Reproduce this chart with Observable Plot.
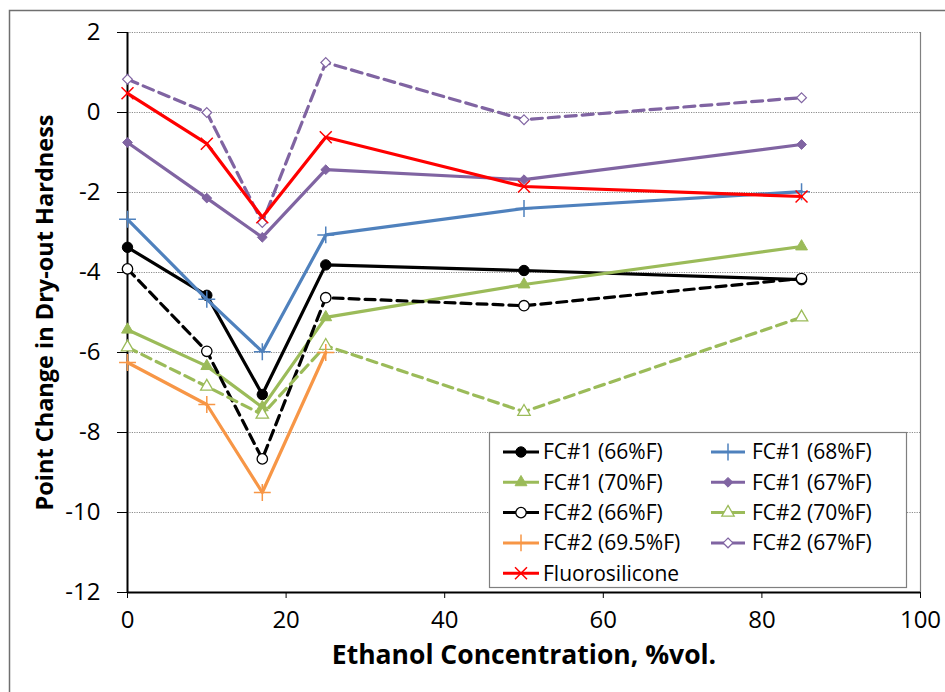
<!DOCTYPE html>
<html>
<head>
<meta charset="utf-8">
<script src="https://cdn.jsdelivr.net/npm/d3@7"></script>
<script src="https://cdn.jsdelivr.net/npm/@observablehq/plot@0.6"></script>
<style>
  html, body { margin: 0; padding: 0; background: #fff; }
  #chart { position: relative; width: 945px; height: 692px; }
</style>
</head>
<body>
<div id="chart"></div>
<script>
// ---- data ----
const ethanol = [0, 10, 17, 25, 50, 85];
const xTicks = [0, 20, 40, 60, 80, 100];
const yTicks = [-12, -10, -8, -6, -4, -2, 0, 2];
const seriesNames = [
  "FC#1 (66%F)", "FC#1 (68%F)", "FC#1 (70%F)", "FC#1 (67%F)",
  "FC#2 (66%F)", "FC#2 (70%F)", "FC#2 (69.5%F)", "FC#2 (67%F)", "Fluorosilicone"
];
const fc1_66  = [-3.37, -4.57, -7.05, -3.81, -3.95, -4.18];
const fc1_68  = [-2.67, -4.67, -5.98, -3.06, -2.4, -1.98];
const fc1_70  = [-5.43, -6.34, -7.37, -5.12, -4.3, -3.35];
const fc1_67  = [-0.75, -2.14, -3.12, -1.43, -1.68, -0.8];
const fc2_66  = [-3.91, -5.97, -8.66, -4.63, -4.83, -4.15];
const fc2_70  = [-5.87, -6.85, -7.55, -5.83, -7.48, -5.12];
const fc2_695 = [-6.25, -7.3, -9.5, -6.0];
const fc2_67  = [0.83, 0.0, -2.75, 1.25, -0.18, 0.37];
const fluoro  = [0.48, -0.78, -2.62, -0.62, -1.85, -2.1];
const xLabel = "Ethanol Concentration, %vol.";
const yLabel = "Point Change in Dry-out Hardness";

// ---- styles ----
const seriesValues = [fc1_66, fc1_68, fc1_70, fc1_67, fc2_66, fc2_70, fc2_695, fc2_67, fluoro];
const styles = [
  {color: "#000000", dash: null,   symbol: "circle",   fill: "#000000", r: 5.2, sw: 1},
  {color: "#4F81BD", dash: null,   symbol: "plus",     fill: "none",    r: 5.5, sw: 1.5},
  {color: "#9BBB59", dash: null,   symbol: "triangle", fill: "#9BBB59", r: 4.4, sw: 1},
  {color: "#8064A2", dash: null,   symbol: "diamond2", fill: "#8064A2", r: 4.4, sw: 1},
  {color: "#000000", dash: "10,6", symbol: "circle",   fill: "#ffffff", r: 5.2, sw: 1.3},
  {color: "#9BBB59", dash: "10,6", symbol: "triangle", fill: "#ffffff", r: 4.6, sw: 1.3},
  {color: "#F79646", dash: null,   symbol: "plus",     fill: "none",    r: 5.5, sw: 1.5},
  {color: "#8064A2", dash: "11,6", symbol: "diamond2", fill: "#ffffff", r: 4.4, sw: 1.2},
  {color: "#FF0000", dash: null,   symbol: "times",    fill: "none",    r: 5.5, sw: 1.5}
];

const FONT = "'Open Sans', 'DejaVu Sans', sans-serif";
const W = 945, H = 692;

const marks = [
  Plot.gridY(yTicks.filter(d => d > -12), {stroke: "#8c8c8c", strokeOpacity: 1, strokeWidth: 1, strokeDasharray: "1.2,1.2"}),
  Plot.ruleX([100], {stroke: "#808080", strokeWidth: 1.2}),
  Plot.axisY({ticks: yTicks, tickSize: 10, tickPadding: 17, fontSize: 24, label: null, stroke: "#000", tickFormat: d => d < 0 ? "-" + Math.abs(d) : String(d)}),
  Plot.axisX({ticks: xTicks, tickSize: 6, tickPadding: 12, fontSize: 24, label: null, stroke: "#000"}),
  Plot.ruleY([-12], {stroke: "#000", strokeWidth: 2}),
  Plot.ruleX([0], {stroke: "#000", strokeWidth: 2}),
  Plot.text([xLabel], {frameAnchor: "bottom", dy: 71, fontSize: 26.5, fontWeight: "bold", textAnchor: "middle", text: d => d}),
  Plot.text([yLabel], {frameAnchor: "left", dx: -82, rotate: -90, fontSize: 23.5, fontWeight: "bold", textAnchor: "middle", text: d => d})
];

seriesValues.forEach((vals, i) => {
  const s = styles[i];
  const data = vals.map((v, j) => ({x: ethanol[j], y: v}));
  marks.push(Plot.line(data, {x: "x", y: "y", stroke: s.color, strokeWidth: 3.2, strokeDasharray: s.dash, strokeLinejoin: "round"}));
  marks.push(Plot.dot(data, {x: "x", y: "y", symbol: s.symbol, r: s.r, fill: s.fill, stroke: s.color, strokeWidth: s.sw}));
});

const plot = Plot.plot({
  width: W, height: H,
  marginLeft: 127, marginRight: 25, marginTop: 32, marginBottom: 100,
  x: {domain: [0, 100]},
  y: {domain: [-12, 2]},
  style: {fontFamily: FONT, color: "#000", background: "#fff", overflow: "visible"},
  marks
});

document.getElementById("chart").appendChild(plot);

// outer chart border
const svg = d3.select(plot);
svg.append("rect")
  .attr("x", 9.5).attr("y", 10.5).attr("width", W).attr("height", H)
  .attr("fill", "none").attr("stroke", "#6f6f6f").attr("stroke-width", 1.5);

// ---- legend ----
const lg = svg.append("g").attr("font-family", FONT).attr("font-size", 21).attr("text-anchor", "start");
lg.append("rect").attr("x", 489.5).attr("y", 432.5).attr("width", 417).attr("height", 155)
  .attr("fill", "#fff").attr("stroke", "#7f7f7f").attr("stroke-width", 1.2);
const symMap = {circle: d3.symbolCircle, plus: d3.symbolPlus, triangle: d3.symbolTriangle, diamond2: d3.symbolDiamond2, times: d3.symbolTimes};
seriesNames.forEach((name, i) => {
  const s = styles[i];
  const col = i % 2, row = Math.floor(i / 2);
  const x0 = col === 0 ? 503 : 711;
  const len = col === 0 ? 36 : 34;
  const cy = 452 + row * 30.3;
  lg.append("line").attr("x1", x0).attr("x2", x0 + len).attr("y1", cy).attr("y2", cy)
    .attr("stroke", s.color).attr("stroke-width", 3);
  lg.append("path")
    .attr("transform", `translate(${x0 + len / 2},${cy})`)
    .attr("d", d3.symbol(symMap[s.symbol], Math.PI * s.r * s.r)())
    .attr("fill", s.fill).attr("stroke", s.color).attr("stroke-width", s.sw);
  lg.append("text").attr("x", col === 0 ? 543 : 752).attr("y", cy).attr("dy", "0.35em")
    .attr("text-anchor", "start").attr("fill", "#000").text(name);
});
</script>
</body>
</html>
